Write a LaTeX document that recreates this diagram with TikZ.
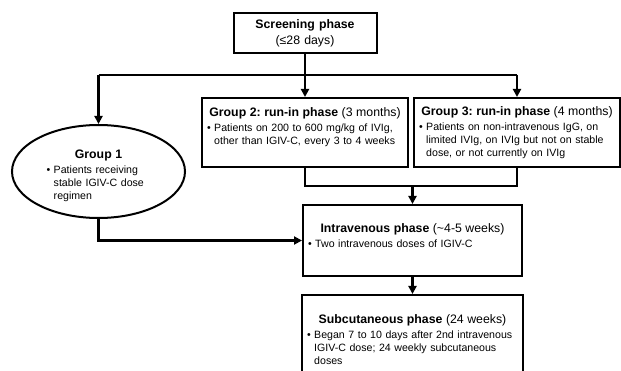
\documentclass[tikz,border=0pt]{standalone}
\usepackage{fontspec}
\setmainfont{Liberation Sans}
\usetikzlibrary{arrows.meta,shapes.geometric}
\frenchspacing

\newcommand{\boxhead}[1]{\hfill{\fontsize{12.3}{15}\selectfont#1}\hfill\null}
\newcommand{\hang}{\hphantom{\textbullet\ }}
\newcommand{\lift}[1]{\rule[-#1]{0pt}{0pt}}

\tikzset{
  phasebox/.style={draw, line width=2pt, inner xsep=5pt, inner ysep=0pt, align=left,
    font=\fontsize{10.6}{13}\selectfont},
  groupoval/.style={ellipse, draw, line width=2pt, inner sep=0pt, align=left,
    text width=104pt, font=\fontsize{10.6}{13}\selectfont},
  linkline/.style={line width=2.6pt},
  flowarrow/.style={linkline, -{Triangle[length=8pt,width=8pt]}}
}

\begin{document}
\begin{tikzpicture}[x=1pt,y=-1pt]
  \useasboundingbox (0,0) rectangle (621,371);
  \clip (0,0) rectangle (621,371);

  \node[phasebox, align=center, text width=133pt, minimum width=143pt, minimum height=40pt,
    font=\fontsize{12.3}{16}\selectfont] (screen) at (305,33) {\textbf{Screening phase}\\(≤28 days)};
  \node[phasebox, text width=196pt, minimum width=206pt, minimum height=69pt] (g2) at (305,132.5)
    {\boxhead{\textbf{Group 2: run-in phase} (3 months)}\\[2pt]
     \textbullet\ Patients on 200 to 600 mg/kg of IVIg,\\
     \hang other than IGIV-C, every 3 to 4 weeks\lift{13pt}};
  \node[phasebox, text width=196pt, minimum width=206pt, minimum height=69pt] (g3) at (517,132.5)
    {\boxhead{\textbf{Group 3: run-in phase} (4 months)}\\[2pt]
     \textbullet\ Patients on non-intravenous IgG, on\\
     \hang limited IVIg, on IVIg but not on stable\\
     \hang dose, or not currently on IVIg};
  \node[groupoval, minimum width=173pt, minimum height=93pt] (g1) at (98.5,171.5)
    {\boxhead{\rule{0pt}{18pt}\textbf{Group 1}}\\[2pt]
     \textbullet\ Patients receiving\\
     \hang stable IGIV-C dose\\
     \hang regimen};
  \node[phasebox, text width=209pt, minimum width=219pt, minimum height=71pt] (iv) at (412.5,240.5)
    {\boxhead{\textbf{Intravenous phase} (\textasciitilde4-5 weeks)}\\[2pt]
     \textbullet\ Two intravenous doses of IGIV-C\lift{9pt}};
  \node[phasebox, text width=211pt, minimum width=221pt, minimum height=90pt, anchor=north] (sc) at (412.5,294)
    {\boxhead{\textbf{Subcutaneous phase} (24 weeks)}\\[2pt]
     \textbullet\ Began 7 to 10 days after 2nd intravenous\\
     \hang IGIV-C dose; 24 weekly subcutaneous\\
     \hang doses};

  \coordinate (split) at (0,75);
  \coordinate (join) at (0,186);
  \draw[linkline] (g1.north |- split) -- (g3.north |- split);
  \draw[flowarrow] (screen) -- (g2);
  \foreach \g in {g1,g3}
    \draw[flowarrow] (\g.north |- split) -- (\g.north);
  \draw[linkline] (g2.south) -- (g2.south |- join) -- (g3.south |- join) -- (g3.south);
  \draw[flowarrow] (iv.north |- join) -- (iv.north);
  \draw[flowarrow] (g1.south) |- (iv.west);
  \draw[flowarrow] (iv) -- (sc);
\end{tikzpicture}
\end{document}
